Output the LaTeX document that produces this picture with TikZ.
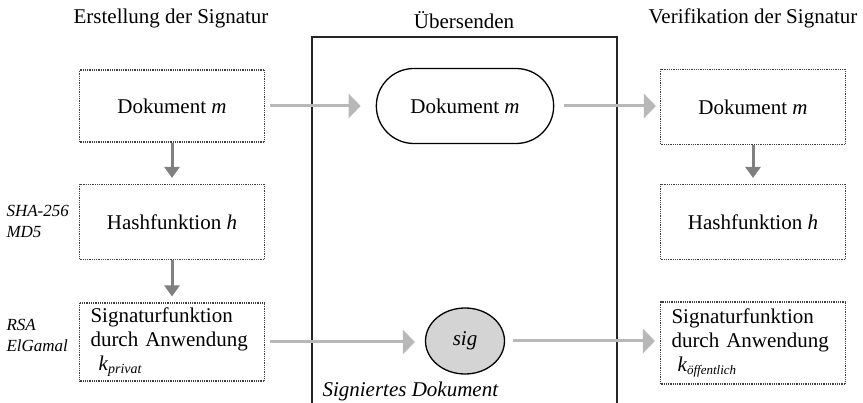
\documentclass[tikz,border=0pt]{standalone}
\usepackage{fontspec}
\setmainfont{Liberation Serif}
\usetikzlibrary{positioning}
\usetikzlibrary{arrows.meta}
\usepgflibrary{shapes.misc}
\usepgflibrary{shapes.geometric}
\def\bw{185pt}
\def\bodyfont{\fontsize{21}{24}\selectfont}
\tikzset{
    stage/.style = {
        draw=black!75, rectangle, dash pattern=on 1pt off 0.8pt, line width=1.1pt, minimum width=\bw, inner sep=0pt
    },
    sendarrow/.style = {
        draw=black!28, line width=3pt, -{Triangle[width=24pt,length=12pt]}
    },
    downarrow/.style = {
        draw=black!50, line width=3pt, -{Triangle[width=15pt,length=11pt]}
    },
    side/.style = {
        font=\fontsize{17}{21}\selectfont\itshape, align=left, anchor=west
    },
}

\begin{document}
\begin{tikzpicture}[x=1pt, y=-1pt, every node/.style={font=\bodyfont}]
        \useasboundingbox (0,0) rectangle (863,403);
        % Column titles
        \node (erstellung) at (171,18) {Erstellung der Signatur};
        \node (uebersenden) at (464,20) {Übersenden};
        \node (verifikation) at (753,18) {Verifikation der Signatur};

        % Frame of the transfer
        \draw[line width=1.8pt, black!85] (312,404) |- (617,37) -- (617,404);

        % Place the blocks
        \node[stage, minimum height=72pt] (dok) at (172,106) {Dokument \textit{m}};
        \node[stage, minimum height=75pt] (hash) at (172,222) {Hashfunktion \textit{h}};
        \node[stage, minimum height=78pt, text width=163pt, align=left] (sign) at (172,342)
            {Signaturfunktion\\durch Anwendung\\\hspace*{8pt}\textit{k}\raisebox{-3pt}{\fontsize{14}{14}\selectfont\textit{privat}}};
        \node[side] (hashalgo) at (3,221) {SHA-256\\MD5};
        \node[side] (signalgo) at (3,335) {RSA\\ElGamal};

        \node[rounded rectangle, draw, line width=1.3pt, minimum width=184pt, minimum height=75pt] (tdok) at (465,106) {Dokument \textit{m}};
        \node[ellipse, draw, fill=black!17, line width=1.3pt, minimum width=79pt, minimum height=66pt] (sig) at (465,341) {\textit{sig}};
        \node[anchor=base west, font=\bodyfont\itshape] (signiert) at (319,397) {Signiertes Dokument};

        \node[stage, minimum height=75pt] (vdok) at (753,107) {Dokument \textit{m}};
        \node[stage, minimum height=75pt] (vhash) at (753,222) {Hashfunktion \textit{h}};
        \node[stage, minimum height=82pt, text width=163pt, align=left] (vsign) at (753,343)
            {Signaturfunktion\\durch Anwendung\\\hspace*{6pt}\textit{k}\raisebox{-3pt}{\fontsize{13}{13}\selectfont\textit{öffentlich}}};

        % Draw connections
        \draw[downarrow, shorten >=6pt] (dok) -- (hash);
        \draw[downarrow, shorten >=6pt] (hash) -- (sign);
        \draw[downarrow, shorten >=6pt] (vdok) -- (vhash);
        \draw[sendarrow, shorten <=5pt, shorten >=15pt] (dok.east) -- (tdok.west);
        \draw[sendarrow, shorten <=10pt, shorten >=4pt] (tdok.east) -- (vdok.west |- tdok.east);
        \draw[sendarrow, shorten <=5pt, shorten >=10pt] (sign.east) -- (sig.west |- sign.east);
        \draw[sendarrow, shorten <=8pt, shorten >=5pt] (sig.east) -- (vsign.west |- sig.east);
    \end{tikzpicture}
\end{document}
